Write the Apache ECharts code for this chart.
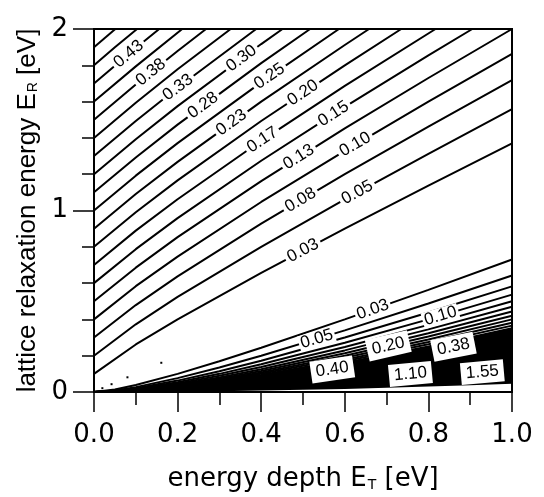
<!DOCTYPE html>
<html>
<head>
<meta charset="utf-8">
<script src="https://cdn.jsdelivr.net/npm/echarts@6/dist/echarts.min.js"></script>
<style>
  html, body { margin: 0; padding: 0; background: #fff; }
  #chart { width: 544px; height: 497px; }
</style>
</head>
<body>
<div id="chart"></div>
<script>
// Contours of the activation energy over the (E_T, E_R) plane, in eV.
// Each path is a list of [E_T, E_R] points along one contour level.

// Upper branch (E_R > E_T): levels in 0.025 eV steps
const UPPER_LEVELS = [0.025, 0.05, 0.075, 0.1, 0.125, 0.15, 0.175, 0.2, 0.225, 0.25,
                      0.275, 0.3, 0.325, 0.35, 0.375, 0.4, 0.425, 0.45, 0.475];
const UPPER_PATHS = [
  [[0, 0.1], [0.1, 0.262], [0.2, 0.4], [0.4, 0.656], [0.6, 0.9], [0.8, 1.137], [1, 1.37]],
  [[0, 0.2], [0.1, 0.373], [0.2, 0.524], [0.4, 0.8], [0.6, 1.061], [0.8, 1.312], [1, 1.558]],
  [[0, 0.3], [0.1, 0.479], [0.2, 0.637], [0.4, 0.928], [0.6, 1.2], [0.8, 1.462], [1, 1.718]],
  [[0, 0.4], [0.1, 0.583], [0.2, 0.746], [0.4, 1.047], [0.6, 1.329], [0.8, 1.6], [1, 1.863]],
  [[0, 0.5], [0.1, 0.685], [0.2, 0.853], [0.4, 1.162], [0.6, 1.452], [0.8, 1.73], [1, 2.0]],
  [[0, 0.6], [0.1, 0.787], [0.2, 0.958], [0.4, 1.274], [0.6, 1.571], [0.8, 1.855], [0.905, 2]],
  [[0, 0.7], [0.1, 0.889], [0.2, 1.062], [0.4, 1.384], [0.6, 1.687], [0.817, 2]],
  [[0, 0.8], [0.1, 0.99], [0.2, 1.166], [0.4, 1.493], [0.6, 1.8], [0.735, 2]],
  [[0, 0.9], [0.1, 1.091], [0.2, 1.268], [0.4, 1.6], [0.6, 1.912], [0.658, 2]],
  [[0, 1.0], [0.1, 1.192], [0.2, 1.371], [0.4, 1.706], [0.586, 2]],
  [[0, 1.1], [0.1, 1.292], [0.2, 1.473], [0.4, 1.812], [0.517, 2]],
  [[0, 1.2], [0.1, 1.393], [0.2, 1.575], [0.4, 1.917], [0.451, 2]],
  [[0, 1.3], [0.1, 1.493], [0.2, 1.676], [0.388, 2]],
  [[0, 1.4], [0.1, 1.594], [0.2, 1.778], [0.327, 2]],
  [[0, 1.5], [0.1, 1.694], [0.2, 1.879], [0.268, 2]],
  [[0, 1.6], [0.1, 1.794], [0.211, 2]],
  [[0, 1.7], [0.1, 1.895], [0.156, 2]],
  [[0, 1.8], [0.05, 1.899], [0.103, 2]],
  [[0, 1.9], [0.051, 2]]
];

// Lower branch (E_R < E_T): the resolved lines plus the labelled ones inside the dense band
const LOWER_LEVELS = [0.025, 0.05, 0.075, 0.1, 0.125, 0.15, 0.175, 0.2, 0.225, 0.25,
                      0.275, 0.3, 0.375, 0.4, 1.1, 1.55];
const LOWER_PATHS = [
  [[0, 0], [0.05, 0.0134], [0.1, 0.0382], [0.2, 0.1], [0.3, 0.1697], [0.4, 0.2438], [0.6, 0.4], [0.8, 0.5628], [1, 0.7298]],
  [[0, 0], [0.05, 0.0086], [0.1, 0.0268], [0.2, 0.0764], [0.3, 0.1354], [0.4, 0.2], [0.6, 0.3394], [0.8, 0.4877], [1, 0.6417]],
  [[0, 0], [0.05, 0.0064], [0.1, 0.0209], [0.2, 0.0628], [0.3, 0.1146], [0.4, 0.1725], [0.6, 0.3], [0.8, 0.4377], [1, 0.5821]],
  [[0, 0], [0.05, 0.0051], [0.1, 0.0172], [0.2, 0.0536], [0.3, 0.1], [0.4, 0.1528], [0.6, 0.2709], [0.8, 0.4], [1, 0.5367]],
  [[0, 0], [0.05, 0.0042], [0.1, 0.0146], [0.2, 0.0469], [0.3, 0.089], [0.4, 0.1377], [0.6, 0.2479], [0.8, 0.3699], [1, 0.5]],
  [[0, 0], [0.05, 0.0036], [0.1, 0.0127], [0.2, 0.0417], [0.3, 0.0804], [0.4, 0.1255], [0.6, 0.2292], [0.8, 0.345], [1, 0.4693]],
  [[0, 0], [0.05, 0.0031], [0.1, 0.0113], [0.2, 0.0377], [0.3, 0.0734], [0.4, 0.1156], [0.6, 0.2135], [0.8, 0.3239], [1, 0.4431]],
  [[0, 0], [0.05, 0.0028], [0.1, 0.0101], [0.2, 0.0343], [0.3, 0.0675], [0.4, 0.1072], [0.6, 0.2], [0.8, 0.3056], [1, 0.4202]],
  [[0, 0], [0.05, 0.0025], [0.1, 0.0092], [0.2, 0.0315], [0.3, 0.0626], [0.4, 0.1], [0.6, 0.1883], [0.8, 0.2895], [1, 0.4]],
  [[0, 0], [0.05, 0.0023], [0.1, 0.0084], [0.2, 0.0292], [0.3, 0.0584], [0.4, 0.0938], [0.6, 0.178], [0.8, 0.2753], [1, 0.382]],
  [[0, 0], [0.05, 0.0021], [0.1, 0.0077], [0.2, 0.0272], [0.3, 0.0547], [0.4, 0.0883], [0.6, 0.1689], [0.8, 0.2626], [1, 0.3657]],
  [[0, 0], [0.05, 0.0019], [0.1, 0.0072], [0.2, 0.0254], [0.3, 0.0515], [0.4, 0.0835], [0.6, 0.1608], [0.8, 0.2511], [1, 0.351]],
  [[0, 0], [0.1, 0.0059], [0.2, 0.0213], [0.4, 0.0718], [0.6, 0.1407], [0.8, 0.2224], [1, 0.3139]],
  [[0, 0], [0.1, 0.0056], [0.2, 0.0202], [0.4, 0.0686], [0.6, 0.1351], [0.8, 0.2144], [1, 0.3033]],
  [[0, 0], [0.2, 0.0083], [0.4, 0.031], [0.6, 0.065], [0.8, 0.1086], [1, 0.1603]],
  [[0, 0], [0.2, 0.0061], [0.4, 0.0229], [0.6, 0.049], [0.8, 0.0829], [1, 0.1238]]
];

// Dense band of contours: bounded above by the 0.30 line, below by the highest level (5.0)
const BAND_TOP = LOWER_PATHS[LOWER_LEVELS.indexOf(0.3)];
const BAND_FLOOR = [[0, 0], [0.1, 0.0005], [0.2, 0.002], [0.3, 0.0044], [0.4, 0.0077], [0.5, 0.0119],
                    [0.6, 0.017], [0.7, 0.0229], [0.8, 0.0297], [0.9, 0.0372], [1, 0.0455]];

// Stray points along E_R = E_T
const SPECKS = [[0.02, 0.021], [0.042, 0.043], [0.08, 0.081], [0.161, 0.161]];

// Contour labels: [E_T, E_R, text, level]
const UPPER_TAGS = [
  [0.083, 1.862, '0.43', 0.425], [0.136, 1.762, '0.38', 0.375], [0.201, 1.678, '0.33', 0.325],
  [0.261, 1.579, '0.28', 0.275], [0.329, 1.485, '0.23', 0.225], [0.403, 1.389, '0.17', 0.175],
  [0.49, 1.295, '0.13', 0.125], [0.494, 1.057, '0.08', 0.075], [0.5, 0.779, '0.03', 0.025],
  [0.353, 1.838, '0.30', 0.3], [0.42, 1.739, '0.25', 0.25], [0.5, 1.648, '0.20', 0.2],
  [0.573, 1.532, '0.15', 0.15], [0.625, 1.364, '0.10', 0.1], [0.63, 1.099, '0.05', 0.05]
];
const LOWER_TAGS = [
  [0.667, 0.454, '0.03', 0.025], [0.533, 0.292, '0.05', 0.05], [0.829, 0.419, '0.10', 0.1]
];
const BAND_TAGS = [
  [0.704, 0.254, '0.20', 0.2], [0.86, 0.249, '0.38', 0.375], [0.57, 0.124, '0.40', 0.4],
  [0.757, 0.099, '1.10', 1.1], [0.929, 0.109, '1.55', 1.55]
];

const X_TICKS = { min: 0, max: 1, step: 0.2 };
const Y_TICKS = { min: 0, max: 2, step: 1 };

const chart = echarts.init(document.getElementById('chart'), null, { renderer: 'canvas' });

const INK = '#000';
const LINE_W = 2;

function contourSeries(paths) {
  return paths.map(p => ({
    type: 'line', data: p, symbol: 'none', silent: true, animation: false,
    lineStyle: { color: INK, width: LINE_W }, z: 3
  }));
}

const axisCommon = {
  type: 'value',
  axisLine: { show: true, onZero: false, lineStyle: { color: INK, width: 2 } },
  splitLine: { show: false },
  minorSplitLine: { show: false }
};

const option = {
  animation: false,
  backgroundColor: '#fff',
  grid: {
    left: 94, right: 32, top: 29, bottom: 105,
    show: true, borderColor: INK, borderWidth: 2, backgroundColor: 'transparent',
    containLabel: false, outerBoundsMode: 'none'
  },
  xAxis: Object.assign({}, axisCommon, {
    min: X_TICKS.min, max: X_TICKS.max, interval: X_TICKS.step,
    axisTick: { show: true, inside: false, length: 20, lineStyle: { color: INK, width: 1.5 } },
    minorTick: { show: true, splitNumber: 2, length: 13, lineStyle: { color: INK, width: 1.5 } },
    axisLabel: { color: INK, fontFamily: 'DejaVu Sans', fontSize: 26, margin: 30,
                 formatter: v => v.toFixed(1) },
    name: 'energy depth E{sub|T} [eV]',
    nameLocation: 'middle', nameGap: 74,
    nameTextStyle: { color: INK, fontFamily: 'DejaVu Sans', fontSize: 26,
      rich: { sub: { color: INK, fontFamily: 'DejaVu Sans', fontSize: 14, padding: [12, 0, 0, 1] } } }
  }),
  yAxis: Object.assign({}, axisCommon, {
    min: Y_TICKS.min, max: Y_TICKS.max, interval: Y_TICKS.step,
    axisTick: { show: true, inside: false, length: 21, lineStyle: { color: INK, width: 1.5 } },
    minorTick: { show: true, splitNumber: 5, length: 12, lineStyle: { color: INK, width: 1.5 } },
    axisLabel: { color: INK, fontFamily: 'DejaVu Sans', fontSize: 26, margin: 26,
                 formatter: v => String(Math.round(v)) },
    name: 'lattice relaxation energy E{sub|R} [eV]',
    nameLocation: 'middle', nameRotate: 90, nameGap: 52,
    nameTextStyle: { color: INK, fontFamily: 'Liberation Sans', fontSize: 26,
      rich: { sub: { color: INK, fontFamily: 'Liberation Sans', fontSize: 14, padding: [12, 0, 0, 1] } } }
  }),
  series: [
    {
      type: 'custom', silent: true, z: 2,
      data: [[0, 0]],
      renderItem: function (params, api) {
        const ring = BAND_TOP.concat(BAND_FLOOR.slice().reverse()).map(p => api.coord(p));
        return { type: 'polygon', shape: { points: ring }, style: { fill: INK } };
      }
    },
    ...contourSeries(UPPER_PATHS),
    ...contourSeries(LOWER_PATHS),
    {
      type: 'scatter', data: SPECKS, symbol: 'rect', symbolSize: 2,
      itemStyle: { color: INK, opacity: 1 }, silent: true, z: 4
    }
  ]
};

chart.setOption(option);

// Rotate each label along the local direction of its contour line
function angleOn(path, x) {
  let i = 0;
  while (i < path.length - 2 && path[i + 1][0] < x) i++;
  const a = chart.convertToPixel({ gridIndex: 0 }, path[i]);
  const b = chart.convertToPixel({ gridIndex: 0 }, path[i + 1]);
  return -Math.atan2(b[1] - a[1], b[0] - a[0]) * 180 / Math.PI;
}

function tagSeries(tags, levels, paths, pad) {
  return {
    type: 'scatter', silent: true, z: 6, symbol: 'circle', symbolSize: 1,
    itemStyle: { color: 'transparent', opacity: 1 },
    label: {
      show: true, position: 'inside', formatter: '{b}', color: INK, opacity: 1,
      fontFamily: 'Liberation Sans', fontSize: 17, lineHeight: 14,
      backgroundColor: '#fff', padding: pad
    },
    data: tags.map(t => ({
      value: [t[0], t[1]], name: t[2],
      label: { rotate: angleOn(paths[levels.indexOf(t[3])], t[0]) }
    }))
  };
}

chart.setOption({
  series: option.series.concat([
    tagSeries(UPPER_TAGS, UPPER_LEVELS, UPPER_PATHS, [0, 3]),
    tagSeries(LOWER_TAGS, LOWER_LEVELS, LOWER_PATHS, [1, 2]),
    tagSeries(BAND_TAGS, LOWER_LEVELS, LOWER_PATHS, [4, 5])
  ])
});
</script>
</body>
</html>
